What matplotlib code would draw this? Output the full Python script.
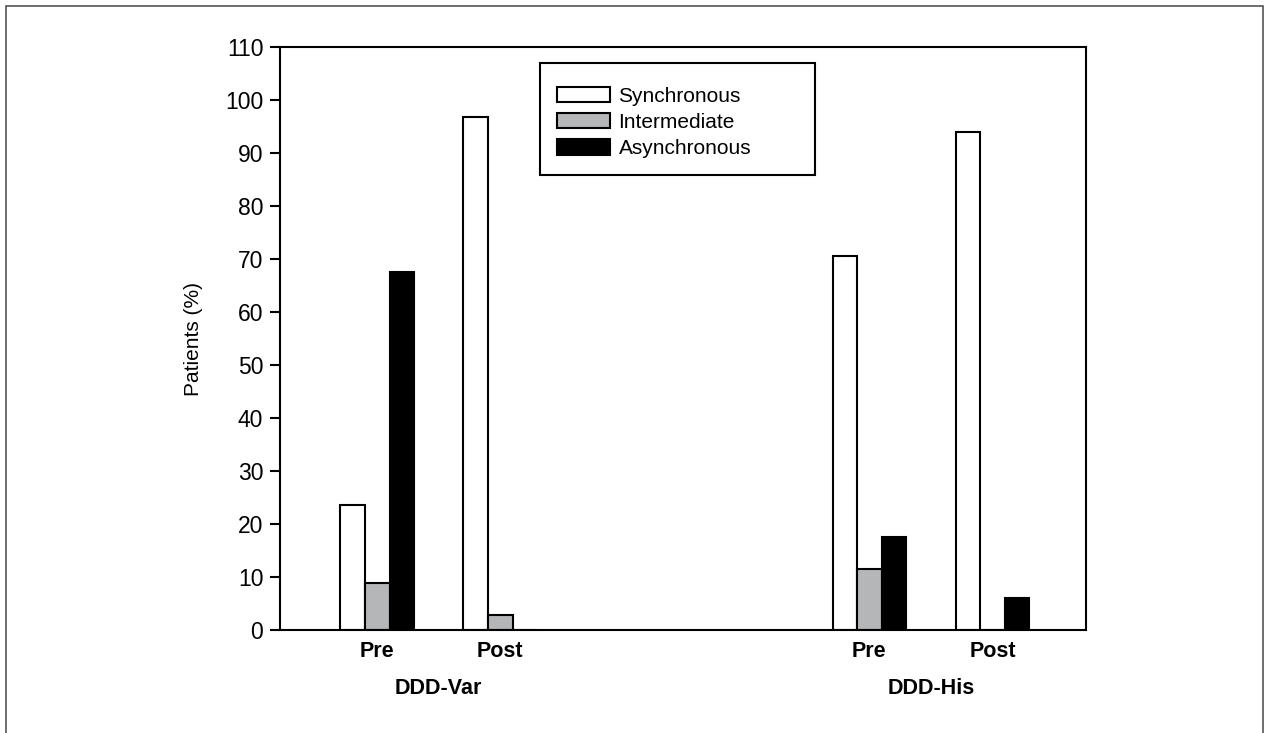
import matplotlib
matplotlib.use("Agg")
import matplotlib.pyplot as plt
import matplotlib.transforms as mtransforms
from matplotlib.patches import Rectangle
import numpy as np

# data
groups = ["DDD-Var", "DDD-His"]
phases = ["Pre", "Post"]
series = ["Synchronous", "Intermediate", "Asynchronous"]
synchronous = [23.5, 96.8, 70.6, 94.0]
intermediate = [8.9, 2.8, 11.6, 0.0]
asynchronous = [67.6, 0.0, 17.5, 6.0]
yticks = list(range(0, 111, 10))

colors = ["white", "#b4b6b8", "black"]
plt.rcParams["font.family"] = ["Liberation Sans", "DejaVu Sans"]

W, H = 1269, 733
fig = plt.figure(figsize=(W / 100, H / 100), dpi=100)
ax = fig.add_axes([280 / W, 1 - 630 / H, 806 / W, 583 / H])

# Pre/Post slots, groups separated by a gap
centers = np.array([g * 4 + p for g in range(len(groups)) for p in range(len(phases))], dtype=float)
w = 0.2
for i, (vals, c, lab) in enumerate(zip([synchronous, intermediate, asynchronous], colors, series)):
    ax.bar(centers + (i - 1) * w, vals, width=w, color=c, edgecolor="black",
           linewidth=1.5, label=lab)

ax.set_xlim(-0.79, 5.76)
ax.set_ylim(0, 110)
ax.set_yticks(yticks)
ax.tick_params(axis="y", direction="out", length=7, width=1.5, labelsize=16.5, pad=5)
ax.set_xticks(centers)
ax.set_xticklabels(phases * len(groups), fontsize=15.5, fontweight="bold")
ax.tick_params(axis="x", length=0, pad=8)
for sp in ax.spines.values():
    sp.set_linewidth(1.5)

ax.set_ylabel("Patients (%)", fontsize=15, labelpad=16)

trans = mtransforms.blended_transform_factory(ax.transData, ax.transAxes)
for g, name in enumerate(groups):
    xm = centers[g * 2: g * 2 + 2].mean()
    ax.text(xm, -0.101, name, transform=trans, ha="center", va="center",
            fontsize=15.5, fontweight="bold")

leg = ax.legend(loc="upper left", bbox_to_anchor=(557 / W, 1 - 87 / H),
                bbox_transform=fig.transFigure, frameon=False,
                prop={"size": 15}, handlelength=2.55, handleheight=0.75,
                handletextpad=0.4, labelspacing=0.34, borderpad=0, borderaxespad=0)

# legend box, drawn separately to match its padding
fig.patches.append(Rectangle((540 / W, 1 - 175 / H), 275 / W, 112 / H,
                             transform=fig.transFigure, fill=False,
                             edgecolor="black", linewidth=1.5, zorder=5))

# thin frame around the whole figure
fig.patches.append(Rectangle((6 / W, -0.01), 1257 / W, 1 - 6 / H + 0.01,
                             transform=fig.transFigure, fill=False,
                             edgecolor="#555555", linewidth=1.2))

fig.savefig("out.png", dpi=100)
